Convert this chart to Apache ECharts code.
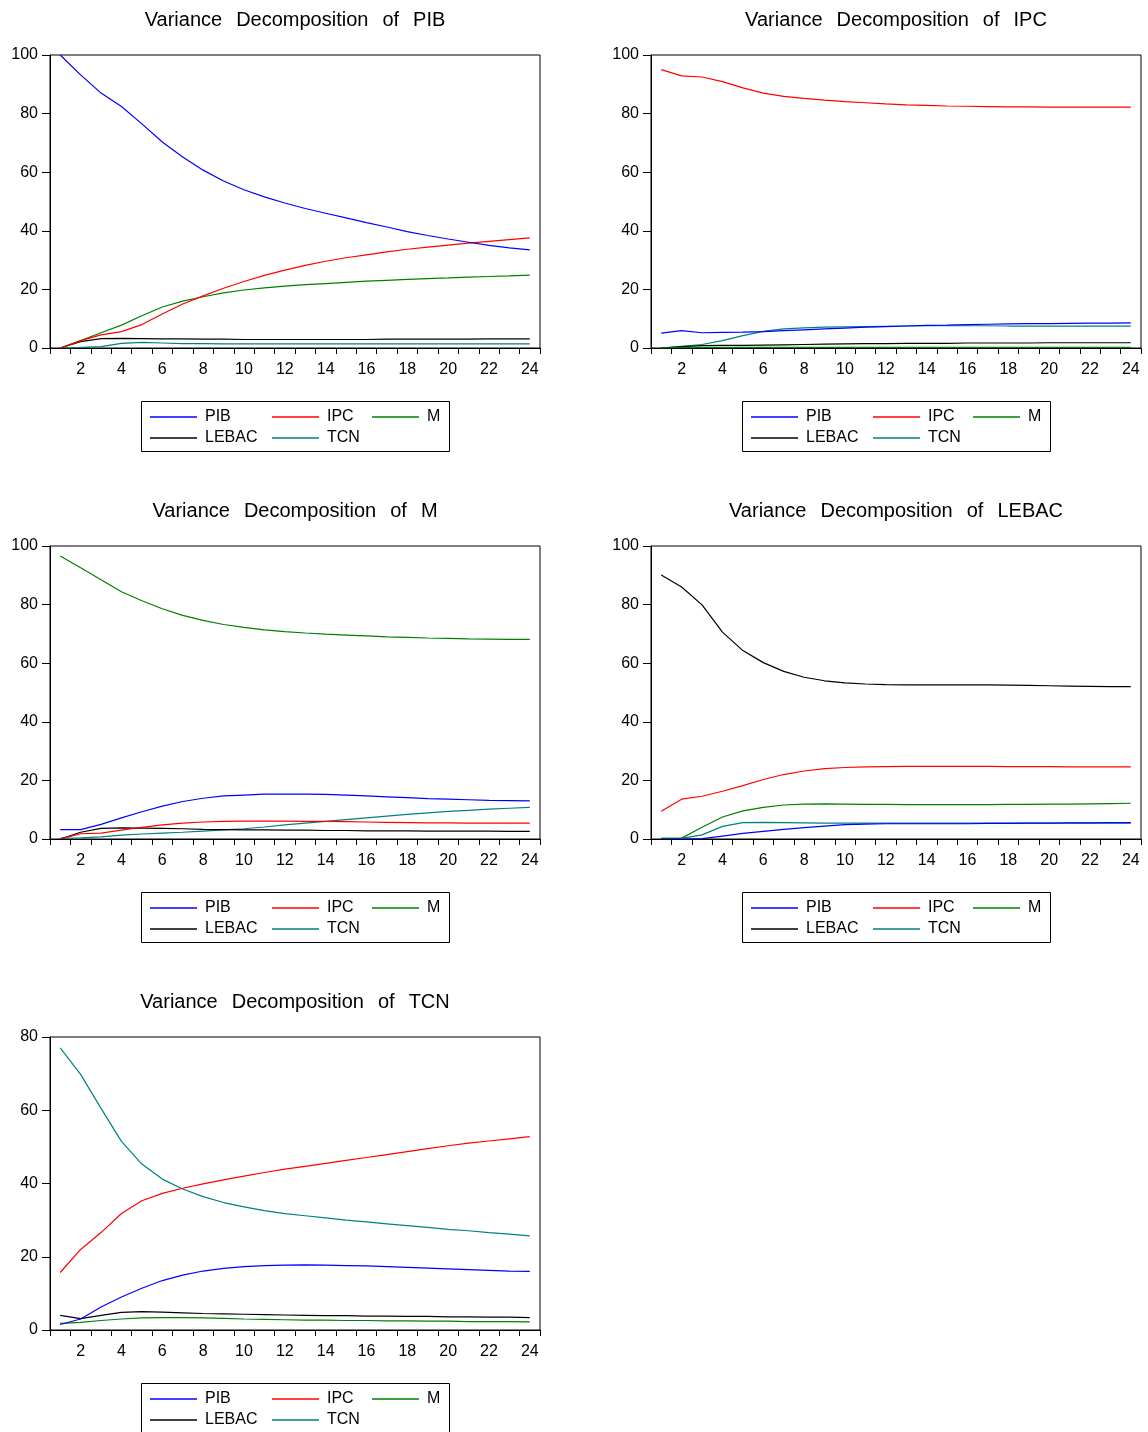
<!DOCTYPE html>
<html><head><meta charset="utf-8">
<script src="https://cdn.jsdelivr.net/npm/echarts@6/dist/echarts.min.js"></script>
<style>html,body{margin:0;padding:0;background:#fff}#c{width:1148px;height:1432px}</style>
</head><body><div id="c"></div>
<script>
const periods = ['1','2','3','4','5','6','7','8','9','10','11','12','13','14','15','16','17','18','19','20','21','22','23','24'];
const seriesNames = ['PIB','IPC','M','LEBAC','TCN'];
const panelTitleWords = [
  ['Variance','Decomposition','of','PIB'],
  ['Variance','Decomposition','of','IPC'],
  ['Variance','Decomposition','of','M'],
  ['Variance','Decomposition','of','LEBAC'],
  ['Variance','Decomposition','of','TCN']
];
const yTicks = [[0,100,20],[0,100,20],[0,100,20],[0,100,20],[0,80,20]];

// Variance Decomposition of PIB
const vdPIB_PIB   = [100,93.2,87,82.4,76.5,70.3,65.2,60.7,57,54,51.6,49.5,47.6,46,44.4,42.8,41.3,39.7,38.4,37.2,36.1,35,34.2,33.5];
const vdPIB_IPC   = [0,2.5,4.5,5.6,8,11.6,15,17.8,20.4,22.7,24.8,26.6,28.2,29.6,30.8,31.8,32.8,33.7,34.4,35.1,35.8,36.4,37,37.6];
const vdPIB_M     = [0,2.5,5.2,7.8,11,14,16,17.5,18.8,19.8,20.5,21.1,21.6,22,22.4,22.8,23.1,23.4,23.7,23.9,24.2,24.4,24.6,24.9];
const vdPIB_LEBAC = [0,2.2,3.2,3.3,3.2,3.1,3.1,3.0,3.0,2.9,2.9,2.9,2.9,2.9,2.9,2.9,3.0,3.0,3.0,3.0,3.0,3.1,3.1,3.1];
const vdPIB_TCN   = [0,0.2,0.5,1.6,1.9,1.7,1.5,1.5,1.4,1.4,1.4,1.4,1.4,1.4,1.4,1.4,1.4,1.4,1.4,1.4,1.4,1.4,1.4,1.4];

// Variance Decomposition of IPC
const vdIPC_PIB   = [5.1,5.9,5.2,5.3,5.4,5.6,5.9,6.2,6.5,6.8,7.1,7.3,7.5,7.7,7.8,8.0,8.1,8.2,8.3,8.3,8.4,8.5,8.5,8.6];
const vdIPC_IPC   = [95,92.9,92.5,90.9,88.8,87,85.9,85.2,84.6,84.1,83.7,83.3,83,82.8,82.6,82.5,82.4,82.3,82.3,82.2,82.2,82.2,82.2,82.2];
const vdIPC_M     = [0,0.2,0.2,0.2,0.2,0.2,0.2,0.2,0.2,0.2,0.2,0.2,0.2,0.2,0.2,0.2,0.2,0.2,0.2,0.2,0.2,0.2,0.2,0.2];
const vdIPC_LEBAC = [0,0.5,0.8,0.9,0.9,1.0,1.1,1.2,1.3,1.4,1.5,1.5,1.6,1.6,1.6,1.7,1.7,1.7,1.7,1.8,1.8,1.8,1.8,1.8];
const vdIPC_TCN   = [0,0.6,1.2,2.5,4.2,5.7,6.5,6.9,7.1,7.2,7.3,7.4,7.5,7.6,7.6,7.6,7.6,7.5,7.5,7.5,7.5,7.5,7.5,7.5];

// Variance Decomposition of M
const vdM_PIB   = [3.2,3.2,5,7.2,9.3,11.2,12.8,13.9,14.7,15.0,15.3,15.3,15.3,15.2,15.0,14.7,14.4,14.1,13.8,13.6,13.4,13.2,13.1,13.0];
const vdM_IPC   = [0,1.8,2.0,3.0,4.0,4.8,5.4,5.8,6.0,6.1,6.1,6.1,6.0,6.0,5.9,5.8,5.7,5.6,5.5,5.5,5.4,5.4,5.4,5.4];
const vdM_M     = [96.6,92.6,88.5,84.4,81.3,78.6,76.3,74.6,73.2,72.2,71.4,70.8,70.3,69.9,69.6,69.3,69.0,68.8,68.6,68.5,68.3,68.2,68.1,68.1];
const vdM_LEBAC = [0,2.3,3.6,3.8,3.7,3.6,3.5,3.3,3.2,3.1,3.1,3.0,3.0,2.9,2.9,2.8,2.8,2.8,2.7,2.7,2.7,2.7,2.6,2.6];
const vdM_TCN   = [0.3,0.4,0.7,1.3,1.7,2.0,2.3,2.7,3.1,3.5,4.1,4.8,5.4,6.0,6.6,7.2,7.8,8.4,8.9,9.4,9.8,10.2,10.5,10.8];

// Variance Decomposition of LEBAC
const vdLEBAC_PIB   = [0,0,0.1,1.0,1.9,2.6,3.3,3.9,4.4,4.9,5.1,5.2,5.2,5.2,5.2,5.2,5.3,5.3,5.4,5.4,5.5,5.5,5.6,5.6];
const vdLEBAC_IPC   = [9.5,13.6,14.6,16.3,18.2,20.3,22.0,23.2,24.0,24.4,24.6,24.7,24.8,24.8,24.8,24.8,24.8,24.7,24.7,24.7,24.6,24.6,24.6,24.6];
const vdLEBAC_M     = [0.2,0.3,4.0,7.5,9.6,10.8,11.6,11.9,12.0,11.9,11.8,11.8,11.7,11.7,11.7,11.7,11.7,11.8,11.8,11.9,11.9,12.0,12.1,12.2];
const vdLEBAC_LEBAC = [90.1,86,79.9,70.6,64.3,60.2,57.2,55.2,54.0,53.3,52.9,52.7,52.6,52.6,52.6,52.6,52.6,52.5,52.4,52.3,52.2,52.1,52.0,52.0];
const vdLEBAC_TCN   = [0.2,0.2,1.4,4.3,5.6,5.7,5.6,5.5,5.4,5.4,5.4,5.4,5.4,5.4,5.4,5.4,5.4,5.4,5.4,5.4,5.4,5.4,5.4,5.4];

// Variance Decomposition of TCN
const vdTCN_PIB   = [1.5,3.0,6.3,9.0,11.4,13.5,15.0,16.1,16.8,17.3,17.6,17.7,17.8,17.7,17.6,17.5,17.3,17.1,16.9,16.7,16.5,16.3,16.1,16.0];
const vdTCN_IPC   = [15.7,22,26.6,31.8,35.3,37.3,38.7,39.9,41.0,42.0,43.0,43.9,44.7,45.5,46.3,47.1,47.9,48.7,49.5,50.3,51.0,51.6,52.2,52.8];
const vdTCN_M     = [1.8,2.1,2.6,3.0,3.3,3.4,3.4,3.3,3.2,3.0,2.9,2.8,2.7,2.7,2.6,2.6,2.5,2.5,2.4,2.4,2.3,2.3,2.3,2.2];
const vdTCN_LEBAC = [4.0,3.1,4.0,4.8,5.0,4.9,4.7,4.5,4.4,4.3,4.2,4.1,4.0,3.9,3.9,3.8,3.8,3.7,3.7,3.6,3.6,3.5,3.5,3.4];
const vdTCN_TCN   = [77,69.8,60.5,51.5,45.3,41.2,38.5,36.4,34.8,33.6,32.6,31.8,31.2,30.6,30.0,29.5,29.0,28.5,28.0,27.5,27.1,26.6,26.2,25.7];

const panelData = [
  [vdPIB_PIB, vdPIB_IPC, vdPIB_M, vdPIB_LEBAC, vdPIB_TCN],
  [vdIPC_PIB, vdIPC_IPC, vdIPC_M, vdIPC_LEBAC, vdIPC_TCN],
  [vdM_PIB, vdM_IPC, vdM_M, vdM_LEBAC, vdM_TCN],
  [vdLEBAC_PIB, vdLEBAC_IPC, vdLEBAC_M, vdLEBAC_LEBAC, vdLEBAC_TCN],
  [vdTCN_PIB, vdTCN_IPC, vdTCN_M, vdTCN_LEBAC, vdTCN_TCN]
];

const colors = {PIB:'#0000ff', IPC:'#ff0000', M:'#008000', LEBAC:'#000000', TCN:'#008080'};
const FONT = '"Liberation Sans", Arial, Helvetica, sans-serif';

// layout
const panelPos = [[50,55],[651,55],[50,546],[651,546],[50,1037]];
const PW = 490, PH = 293;
// legend slots: [name, dx from plot left, row]
const legendSlots = [['PIB',100,0],['IPC',222,0],['M',322,0],['LEBAC',100,1],['TCN',222,1]];

const grids = [], xAxes = [], yAxes = [], series = [], titles = [], legends = [], graphics = [];
panelPos.forEach(([L,T], p) => {
  grids.push({left:L, top:T, width:PW, height:PH, show:true, borderColor:'#000', borderWidth:1, backgroundColor:'transparent', containLabel:false});
  xAxes.push({
    gridIndex:p, type:'category', data:periods, boundaryGap:true,
    axisLine:{show:true, lineStyle:{color:'#000', width:1}},
    axisTick:{show:true, interval:0, length:6, inside:false, lineStyle:{color:'#000', width:1}},
    axisLabel:{interval:(i)=> i%2===1, fontSize:16, color:'#000', fontFamily:FONT, margin:14},
    splitLine:{show:false}
  });
  yAxes.push({
    gridIndex:p, type:'value', min:yTicks[p][0], max:yTicks[p][1], interval:yTicks[p][2],
    axisLine:{show:true, lineStyle:{color:'#000', width:1}},
    axisTick:{show:true, length:8, lineStyle:{color:'#000', width:1}},
    axisLabel:{fontSize:16, color:'#000', fontFamily:FONT, margin:12},
    splitLine:{show:false}
  });
  seriesNames.forEach((name, s) => {
    series.push({
      name, type:'line', xAxisIndex:p, yAxisIndex:p, data:panelData[p][s],
      showSymbol:false, symbol:'none', color:colors[name],
      lineStyle:{color:colors[name], width:1.2}, animation:false, z: 5 - s
    });
  });
  const words = panelTitleWords[p];
  titles.push({
    text: words.map(w => '{w|' + w + '}').join('{s| }'),
    left:L + PW/2 - 5, textAlign:'center', top:T - 50,
    textStyle:{fontSize:20, fontWeight:'normal', color:'#000', fontFamily:FONT,
      rich:{w:{fontSize:20, color:'#000', fontFamily:FONT}, s:{fontSize:20, width:14, fontFamily:FONT}}}
  });
  legendSlots.forEach(([name, dx, row]) => {
    legends.push({
      data:[name], orient:'horizontal', left:L + dx, top:T + 354 + row*21, padding:0,
      itemWidth:47, itemHeight:1.5, itemGap:0, icon:'rect', selectedMode:false,
      textStyle:{fontSize:16, color:'#000', fontFamily:FONT, lineHeight:15, padding:[0,0,0,3]}
    });
  });
  graphics.push({type:'rect', shape:{x:L+91.5, y:T+346.5, width:308, height:50},
    style:{fill:'none', stroke:'#000', lineWidth:1}, silent:true});
});

const chart = echarts.init(document.getElementById('c'), null, {renderer:'canvas'});
chart.setOption({
  animation:false,
  backgroundColor:'#fff',
  title:titles, grid:grids, xAxis:xAxes, yAxis:yAxes, legend:legends, series, graphic:graphics
});
</script></body></html>
